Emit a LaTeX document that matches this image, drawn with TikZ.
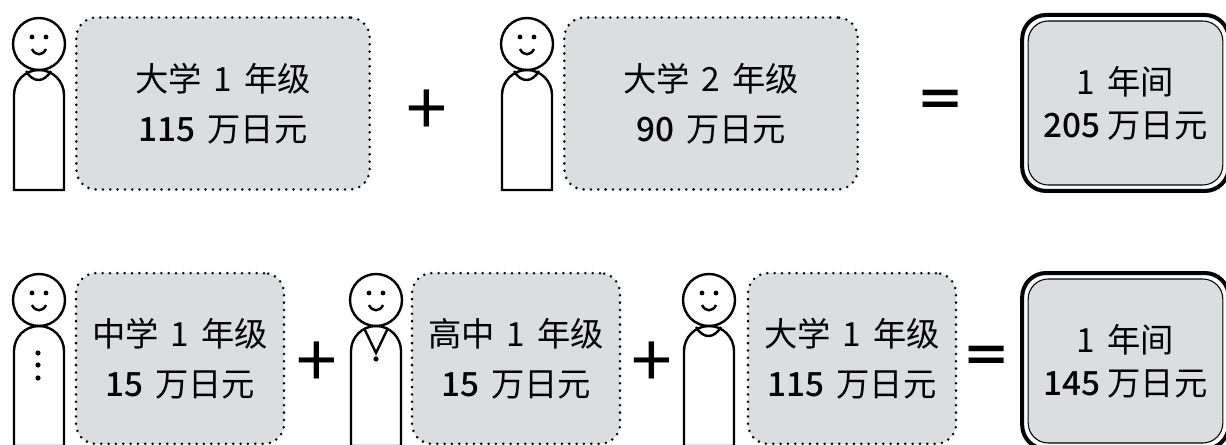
\documentclass[tikz,border=0pt]{standalone}
\usepackage{fontspec}
\setmainfont[BoldFont={Noto Sans CJK SC Medium}]{Noto Sans CJK SC}
\newfontfamily\heavyfont{Noto Sans CJK SC Black}
\definecolor{boxgray}{HTML}{DCDDDF}
\newcommand{\widewords}{\spaceskip 0.36em\relax}
\newcommand{\eqglyph}{\scalebox{0.9}[0.6]{\heavyfont =}}
\tikzset{
  person/.pic={
    \draw[figline] (0,0) circle (26);
    \fill (-7,-7) circle (2.4);
    \fill (7,-7) circle (2.4);
    \draw[figline] (-7,5) .. controls (-4,12) and (4,12) .. (7,5);
    \draw[figline] (-25,146) -- (-25,51) arc[start angle=180, end angle=360, radius=25] -- (25,146) -- cycle;
  }
}
\begin{document}
\begin{tikzpicture}[x=0.75pt, y=-0.75pt]
  % Define styles
  \tikzstyle{figline} = [line width=1.8pt]
  \tikzstyle{cost} = [rectangle, fill=boxgray, draw=black, rounded corners=15pt, line width=2.1pt, line cap=round, dash pattern=on 0pt off 5.5pt, text centered, align=center, font=\fontsize{25}{37.5}\selectfont\widewords, inner sep=0pt]
  \tikzstyle{totalouter} = [rectangle, draw, fill=white, rounded corners=18pt, line width=3pt, minimum width=155pt, minimum height=132pt]
  \tikzstyle{total} = [rectangle, draw, fill=boxgray, rounded corners=15pt, line width=0.8pt, minimum width=146pt, minimum height=123pt, text centered, align=center, font=\fontsize{25}{32}\selectfont\widewords, inner sep=0pt]
  \tikzstyle{sign} = [font=\fontsize{55}{55}\selectfont, inner sep=0pt]

  \useasboundingbox (0,0) rectangle (1226,445);

  % Row 1: university only
  \pic at (39,44) {person};
  \draw[figline] (26,71) .. controls (33,83) and (44,83) .. (51,71);
  \node[cost, minimum width=220pt, minimum height=129pt] (uni1) at (223,103.5) {大学 1 年级\\\textbf{115} 万日元};
  \node[sign] (plus1) at (427,113) {+};
  \pic at (527,44) {person};
  \draw[figline] (514,71) .. controls (521,83) and (532,83) .. (539,71);
  \node[cost, minimum width=220pt, minimum height=129pt] (uni2) at (711,103.5) {大学 2 年级\\\textbf{90} 万日元};
  \node[sign] (eq1) at (941,103) {\eqglyph};
  \node[totalouter] (yearout1) at (1125.5,103) {};
  \node[total] (year1) at (yearout1) {1 年间\\\textbf{205}\hspace{0.2em}万日元};

  % Row 2: junior high, high school, university
  \pic at (39,300) {person};
  \fill (38,353) circle (2.6);
  \fill (38,365) circle (2.6);
  \fill (38,378) circle (2.6);
  \node[cost, minimum width=156pt, minimum height=128pt] (mid) at (180,358.5) {中学 1 年级\\\textbf{15} 万日元};
  \node[sign] (plus2) at (317,365) {+};
  \pic at (376,300) {person};
  \draw[figline] (364,328) -- (376,353) -- (388,328);
  \fill (376,359) circle (2.6);
  \node[cost, minimum width=156pt, minimum height=128pt] (high) at (516,358.5) {高中 1 年级\\\textbf{15} 万日元};
  \node[sign] (plus3) at (652,365) {+};
  \pic at (709,300) {person};
  \draw[figline] (696,327) .. controls (703,339) and (714,339) .. (721,327);
  \node[cost, minimum width=156pt, minimum height=128pt] (uni3) at (852,358.5) {大学 1 年级\\\textbf{115} 万日元};
  \node[sign] (eq2) at (987,359) {\eqglyph};
  \node[totalouter] (yearout2) at (1125.5,361) {};
  \node[total] (year2) at (yearout2) {1 年间\\\textbf{145}\hspace{0.2em}万日元};

\end{tikzpicture}
\end{document}
